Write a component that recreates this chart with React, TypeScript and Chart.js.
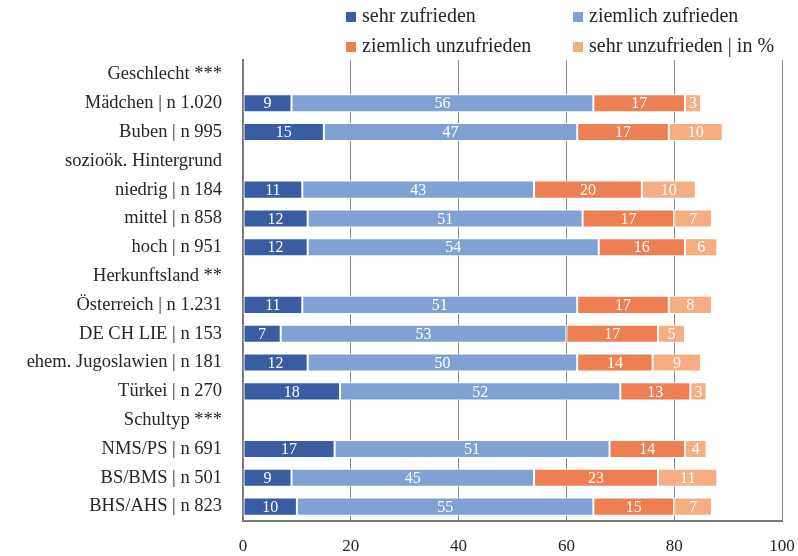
import React, { useEffect, useRef } from 'react';
import { Chart, registerables } from 'chart.js';

Chart.register(...registerables);

const categories = [
  'Geschlecht ***',
  'Mädchen | n 1.020',
  'Buben | n 995',
  'sozioök. Hintergrund',
  'niedrig | n 184',
  'mittel | n 858',
  'hoch | n 951',
  'Herkunftsland **',
  'Österreich | n 1.231',
  'DE CH LIE | n 153',
  'ehem. Jugoslawien | n 181',
  'Türkei | n 270',
  'Schultyp ***',
  'NMS/PS | n 691',
  'BS/BMS | n 501',
  'BHS/AHS | n 823',
];

const sehrZufrieden = [null, 9, 15, null, 11, 12, 12, null, 11, 7, 12, 18, null, 17, 9, 10];
const ziemlichZufrieden = [null, 56, 47, null, 43, 51, 54, null, 51, 53, 50, 52, null, 51, 45, 55];
const ziemlichUnzufrieden = [null, 17, 17, null, 20, 17, 16, null, 17, 17, 14, 13, null, 14, 23, 15];
const sehrUnzufrieden = [null, 3, 10, null, 10, 7, 6, null, 8, 5, 9, 3, null, 4, 11, 7];

const seriesLabels = ['sehr zufrieden', 'ziemlich zufrieden', 'ziemlich unzufrieden', 'sehr unzufrieden | in %'];
const seriesColors = ['#3A5CA3', '#7FA1D4', '#EE7F53', '#F6AD81'];

const FONT = '"Liberation Serif", "Times New Roman", serif';
const TEXT = '#262626';

const valueLabels = {
  id: 'valueLabels',
  afterDatasetsDraw(chart: any) {
    const ctx = chart.ctx;
    ctx.save();
    ctx.font = `16px ${FONT}`;
    ctx.fillStyle = '#ffffff';
    ctx.textAlign = 'center';
    ctx.textBaseline = 'middle';
    chart.data.datasets.forEach((ds: any, i: number) => {
      const meta = chart.getDatasetMeta(i);
      meta.data.forEach((el: any, j: number) => {
        const v = ds.data[j];
        if (v == null) return;
        const p = el.getProps(['x', 'base', 'y'], true);
        ctx.fillText(String(v), (p.x + p.base) / 2, p.y + 1);
      });
    });
    ctx.restore();
  },
};

const gridLegend = {
  id: 'gridLegend',
  afterDraw(chart: any) {
    const ctx = chart.ctx;
    const cols = [351, 578];
    const rows = [17, 47];
    ctx.save();
    ctx.font = `20px ${FONT}`;
    ctx.textBaseline = 'middle';
    ctx.textAlign = 'left';
    chart.data.datasets.forEach((ds: any, i: number) => {
      const x = cols[i % 2];
      const y = rows[Math.floor(i / 2)];
      ctx.fillStyle = ds.backgroundColor;
      ctx.fillRect(x - 5, y - 5, 10, 10);
      ctx.fillStyle = TEXT;
      ctx.fillText(ds.label, x + 11, y);
    });
    ctx.restore();
  },
};

export default function App() {
  const ref = useRef<HTMLCanvasElement | null>(null);
  useEffect(() => {
    if (!ref.current) return;
    const series = [sehrZufrieden, ziemlichZufrieden, ziemlichUnzufrieden, sehrUnzufrieden];
    const chart = new Chart(ref.current, {
      type: 'bar',
      data: {
        labels: categories,
        datasets: series.map((d, i) => ({
          label: seriesLabels[i],
          data: d,
          backgroundColor: seriesColors[i],
          borderColor: '#ffffff',
          borderWidth: 1,
          borderSkipped: false,
          barPercentage: 0.63,
          categoryPercentage: 1,
        })),
      },
      options: {
        indexAxis: 'y',
        responsive: false,
        animation: false,
        layout: { padding: { top: 60, right: 16, left: 0, bottom: 0 } },
        plugins: { legend: { display: false }, tooltip: { enabled: false } },
        scales: {
          x: {
            stacked: true,
            min: 0,
            max: 100,
            afterFit: (s: any) => {
              s.height = 35;
              s.paddingRight = 0;
              s.paddingLeft = 0;
            },
            ticks: { stepSize: 20, padding: 15, color: TEXT, font: { family: FONT, size: 17 } },
            grid: { color: '#8a8a8a', lineWidth: 1, drawTicks: false },
            border: { display: true, color: '#7a7a7a', width: 2 },
          },
          y: {
            stacked: true,
            afterFit: (s: any) => { s.width = 243; },
            ticks: { padding: 21, color: TEXT, font: { family: FONT, size: 18.5 }, autoSkip: false },
            grid: { display: false, drawTicks: false },
            border: { display: true, color: '#7a7a7a', width: 2 },
          },
        },
      },
      plugins: [valueLabels, gridLegend],
    });
    return () => chart.destroy();
  }, []);
  return (
    <div style={{ position: 'absolute', left: 0, top: 0, width: 798, height: 556, background: '#fff' }}>
      <canvas ref={ref} width={798} height={556} />
    </div>
  );
}
